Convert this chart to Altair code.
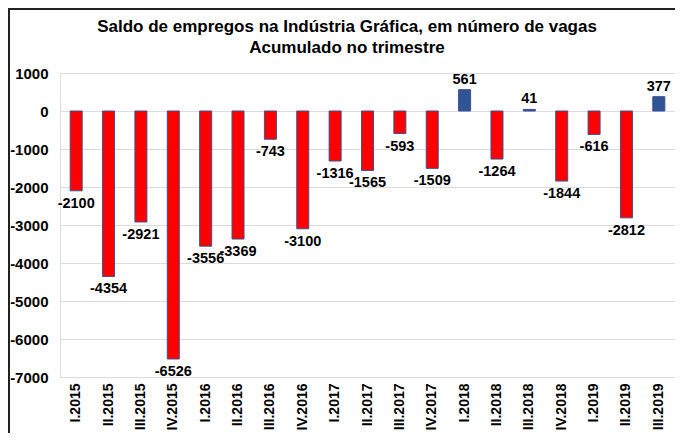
import altair as alt
import pandas as pd

quarters = ["I.2015", "II.2015", "III.2015", "IV.2015",
            "I.2016", "II.2016", "III.2016", "IV.2016",
            "I.2017", "II.2017", "III.2017", "IV.2017",
            "I.2018", "II.2018", "III.2018", "IV.2018",
            "I.2019", "II.2019", "III.2019"]
values = [-2100, -4354, -2921, -6526,
          -3556, -3369, -743, -3100,
          -1316, -1565, -593, -1509,
          561, -1264, 41, -1844,
          -616, -2812, 377]
y_ticks = [-7000, -6000, -5000, -4000, -3000, -2000, -1000, 0, 1000]
title_line1 = "Saldo de empregos na Indústria Gráfica, em número de vagas"
title_line2 = "Acumulado no trimestre"

df = pd.DataFrame({"q": quarters, "v": values})
FONT = "Liberation Sans"

x = alt.X("q:N", sort=quarters,
          scale=alt.Scale(paddingInner=0, paddingOuter=0),
          axis=alt.Axis(title=None, labelAngle=-90, labelFont=FONT, labelFontSize=14,
                        labelFontWeight="bold", labelColor="#000000", labelPadding=6,
                        ticks=False, domain=False, grid=False))
y = alt.Y("v:Q",
          scale=alt.Scale(domain=[-7000, 1000], nice=False, zero=False),
          axis=alt.Axis(title=None, values=y_ticks, labelExpr="'' + datum.value",
                        labelFont=FONT, labelFontSize=15, labelFontWeight="bold",
                        labelColor="#000000", labelPadding=12, ticks=False, domain=False,
                        grid=True, gridColor="#D9DCE3", gridWidth=1))

base = alt.Chart(df)
bars = base.mark_bar(size=12, stroke="#3D4F8E", strokeWidth=1).encode(
    x=x, y=y, y2=alt.datum(0),
    color=alt.condition(alt.datum.v < 0, alt.value("#FF0000"), alt.value("#2F5597")),
)
neg_labels = base.transform_filter(alt.datum.v < 0).transform_calculate(
    lbl="'' + datum.v").mark_text(
    baseline="top", dy=6, font=FONT, fontSize=14.5, fontWeight="bold", color="#000000"
).encode(x=x, y=y, text="lbl:N")
pos_labels = base.transform_filter(alt.datum.v >= 0).transform_calculate(
    lbl="'' + datum.v").mark_text(
    baseline="bottom", dy=-3, font=FONT, fontSize=14.5, fontWeight="bold", color="#000000"
).encode(x=x, y=y, text="lbl:N")

one = alt.Data(values=[{"a": 1}])
t1 = alt.Chart(one).mark_text(font=FONT, fontSize=17, fontWeight="bold", color="#000000",
                              baseline="middle", align="center").encode(
    x=alt.value(287), y=alt.value(-46), text=alt.value(title_line1))
t2 = alt.Chart(one).mark_text(font=FONT, fontSize=17, fontWeight="bold", color="#000000",
                              baseline="middle", align="center").encode(
    x=alt.value(287), y=alt.value(-25), text=alt.value(title_line2))
border_left = alt.Chart(one).mark_rule(color="#222222", strokeWidth=2).encode(
    x=alt.value(-51), y=alt.value(-64), y2=alt.value(360))
border_top = alt.Chart(one).mark_rule(color="#222222", strokeWidth=2).encode(
    x=alt.value(-52), x2=alt.value(615), y=alt.value(-64))

chart = alt.layer(bars, neg_labels, pos_labels, t1, t2, border_left, border_top).properties(
    width=615, height=304,
    autosize="none",
    padding={"left": 52, "top": 65, "right": 0, "bottom": 56},
).configure_view(fill="#EEF1F8", strokeWidth=0).configure(background="#FFFFFF")

chart.save("out.html", embed_options={"renderer": "svg", "actions": False})
